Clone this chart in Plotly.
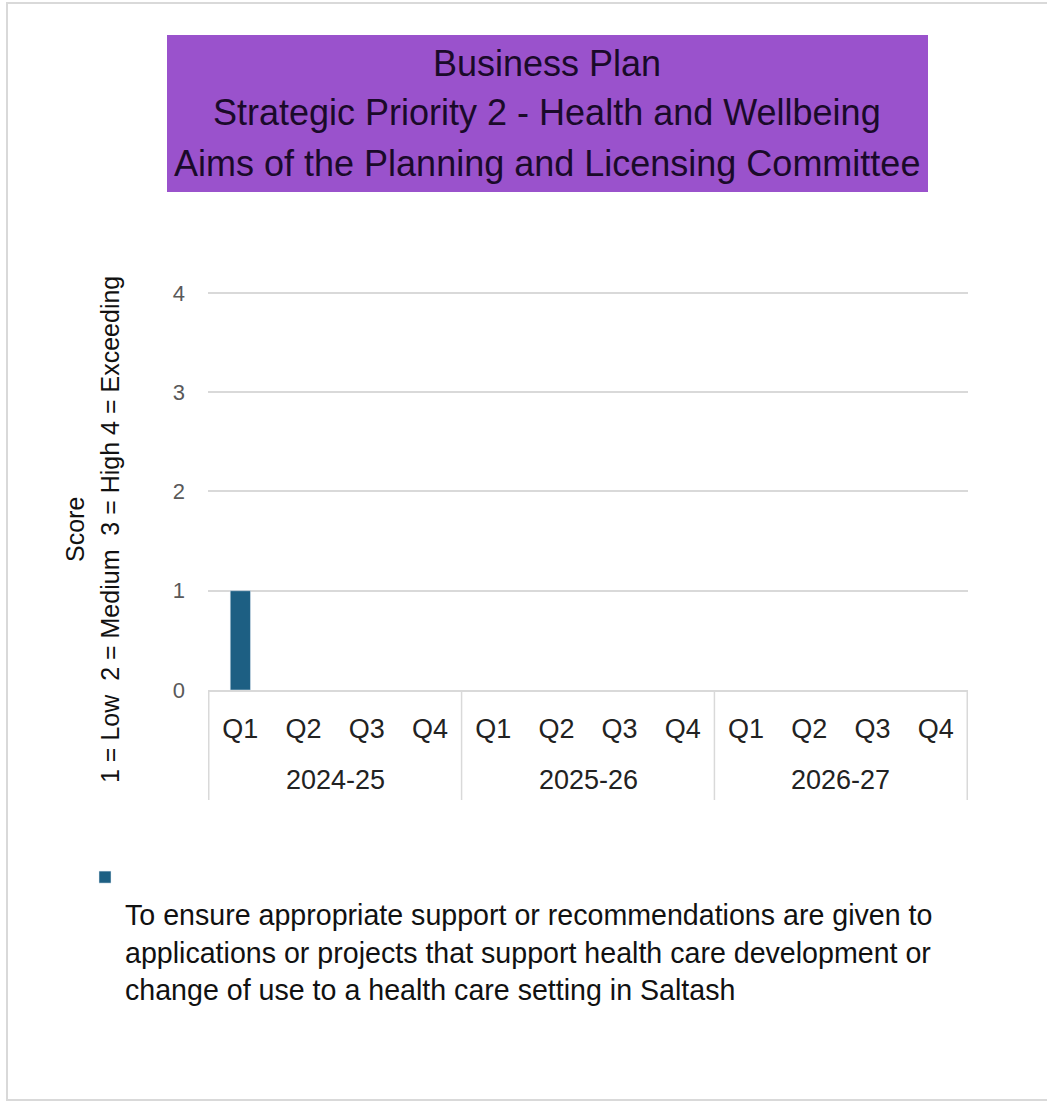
import plotly.graph_objects as go

# Reporting periods (financial year, quarter) and the committee's score per quarter
years = ["2024-25", "2025-26", "2026-27"]
quarters = ["Q1", "Q2", "Q3", "Q4"]
scores = [1, None, None, None, None, None, None, None, None, None, None, None]

series_name = ("To ensure appropriate support or recommendations are given to<br>"
               "applications or projects that support health care development or<br>"
               "change of use to a health care setting in Saltash")
title_lines = ["Business Plan",
               "Strategic Priority 2 - Health and Wellbeing",
               "Aims of the Planning and Licensing Committee"]
y_title_lines = ["Score", "1 = Low  2 = Medium  3 = High 4 = Exceeding"]

# one category per (year, quarter); the axis shows the quarter, the year sits underneath
periods = [f"{y} {q}" for y in years for q in quarters]
period_quarter = [q for _ in years for q in quarters]

SANS = "Liberation Sans, Arial, sans-serif"
GRID = "#d9d9d9"

fig = go.Figure()
fig.add_trace(go.Bar(
    x=periods,
    y=scores,
    name="<br>" + series_name,
    marker_color="#1d5f83",
    showlegend=True,
))

# page geometry helpers (pixels -> paper)
W, H = 1047, 1104
L, R, T, B = 208, 79, 291, 414
pw, ph = W - L - R, H - T - B


def px(x):
    return (x - L) / pw


def py(y):
    return (H - B - y) / ph


shapes = [
    # outer chart frame
    dict(type="rect", xref="paper", yref="paper",
         x0=px(7), x1=px(1060), y0=py(1100), y1=py(3),
         line=dict(color=GRID, width=2), fillcolor="rgba(0,0,0,0)", layer="below"),
    # purple title banner
    dict(type="rect", xref="paper", yref="paper",
         x0=px(167), x1=px(928), y0=py(192), y1=py(35),
         line=dict(width=0), fillcolor="#9a52cc", layer="below"),
]

# year group separators on the category axis (edges of each block of four quarters)
n_q = len(quarters)
for k in range(len(years) + 1):
    edge = k * n_q - 0.5
    shapes.append(dict(type="line", xref="x", yref="paper",
                       x0=edge, x1=edge, y0=py(690), y1=py(800),
                       line=dict(color=GRID, width=1.5)))

annotations = []
for i, line in enumerate(title_lines):
    annotations.append(dict(
        text=line, xref="paper", yref="paper", x=px(547), y=py(63 + 50 * i),
        xanchor="center", yanchor="middle", showarrow=False,
        font=dict(family=SANS, size=36, color="#1a0a2a")))
for i, line in enumerate(y_title_lines):
    annotations.append(dict(
        text=line, xref="paper", yref="paper", x=px(75 + 35 * i), y=py(530),
        xanchor="center", yanchor="middle", showarrow=False, textangle=-90,
        font=dict(family=SANS, size=25, color="#111111")))
# financial-year labels centred under their four quarters
for k, yr in enumerate(years):
    annotations.append(dict(
        text=yr, xref="x", yref="paper", x=k * n_q + (n_q - 1) / 2, y=py(780),
        xanchor="center", yanchor="middle", showarrow=False,
        font=dict(family=SANS, size=27, color="#222222")))

fig.update_layout(
    width=W, height=H,
    margin=dict(l=L, r=R, t=T, b=B),
    paper_bgcolor="white", plot_bgcolor="white",
    bargap=0.68,
    shapes=shapes,
    annotations=annotations,
    legend=dict(
        x=px(85), y=py(852), xanchor="left", yanchor="top",
        font=dict(family=SANS, size=28.6, color="#111111"),
        valign="top", itemwidth=30, bgcolor="rgba(0,0,0,0)",
    ),
    xaxis=dict(
        type="category",
        tickmode="array", tickvals=periods, ticktext=period_quarter,
        showline=True, linecolor=GRID, linewidth=1.5,
        tickfont=dict(family=SANS, size=27, color="#222222"),
        showgrid=False, ticks="", ticklabelstandoff=14,
    ),
    yaxis=dict(
        range=[0, 4.02], dtick=1, tick0=0,
        showgrid=True, gridcolor=GRID, gridwidth=1.5,
        zeroline=False, showline=False,
        tickfont=dict(family=SANS, size=22, color="#595959"),
        ticks="", ticklabelstandoff=22,
    ),
)

fig.write_html("out.html")
